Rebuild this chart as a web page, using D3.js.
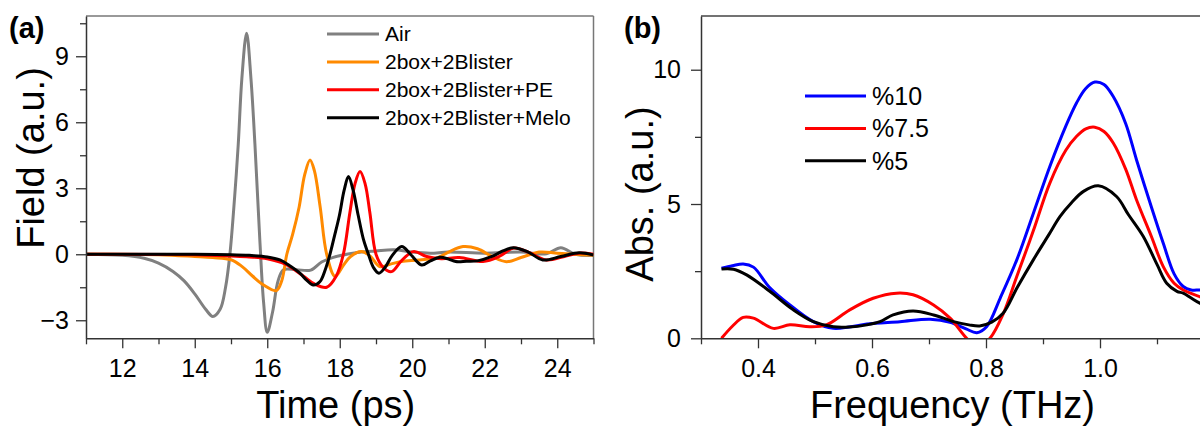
<!DOCTYPE html>
<html>
<head>
<meta charset="utf-8">
<script src="https://cdn.jsdelivr.net/npm/d3@7"></script>
<style>
  body { margin: 0; background: #fff; }
  text { font-family: "Liberation Sans", Arial, sans-serif; fill: #000; }
</style>
</head>
<body>
<script>
// ---- panel (a): THz time-domain field ----
const airT = [11, 12, 12.6, 13.0, 13.4, 13.7, 14.0, 14.3, 14.5, 14.7, 14.85, 14.97, 15.1, 15.2, 15.3, 15.43, 15.55, 15.66, 15.8, 15.9, 16.0, 16.15, 16.3, 16.45, 16.8, 17.2, 17.5, 17.8, 18.4, 19.0, 19.5, 20.0, 20.5, 21, 22, 23, 23.7, 24.1, 24.5, 25];
const airV = [0, -0.05, -0.18, -0.4, -0.78, -1.2, -1.8, -2.5, -2.83, -2.5, -1.5, 0, 2.6, 5.0, 8.0, 10.05, 8.0, 5.0, 0.5, -2.2, -3.55, -2.6, -1.2, -0.7, -0.7, -0.72, -0.35, -0.15, 0.06, 0.15, 0.2, 0.1, 0.05, 0.1, 0.05, 0.1, 0.02, 0.3, 0.0, -0.05];

const blisterT = [11, 13, 14, 14.5, 15.0, 15.3, 15.6, 15.9, 16.25, 16.4, 16.54, 16.7, 16.88, 17.03, 17.18, 17.3, 17.46, 17.64, 17.87, 18.1, 18.3, 18.6, 18.85, 19.1, 19.4, 19.7, 20.2, 20.7, 21.0, 21.4, 21.8, 22.2, 22.6, 23.0, 23.5, 24, 24.5, 25];
const blisterV = [0, -0.02, -0.1, -0.15, -0.25, -0.55, -1.0, -1.4, -1.65, -1.2, 0, 0.9, 2.15, 3.6, 4.29, 3.8, 2.15, 0, -1.0, -0.5, -0.1, 0.12, -0.1, -0.56, -0.45, -0.33, -0.26, -0.15, 0.1, 0.35, 0.25, -0.1, -0.34, -0.15, 0.1, 0.05, 0.0, -0.05];

const peT = [11, 14, 15, 15.5, 16, 16.5, 17.0, 17.3, 17.64, 17.9, 18.1, 18.28, 18.42, 18.56, 18.7, 18.83, 19.0, 19.2, 19.43, 19.7, 20.03, 20.4, 20.8, 21.3, 21.95, 22.4, 22.8, 23.2, 23.7, 24.2, 24.6, 25];
const peV = [0, -0.02, -0.08, -0.12, -0.2, -0.45, -1.0, -1.35, -1.5, -1.0, 0, 1.9, 3.2, 3.76, 3.2, 1.9, 0, -0.6, -0.79, -0.3, 0.12, -0.1, -0.2, -0.15, -0.33, -0.1, 0.28, 0.1, -0.26, -0.1, 0.05, 0.0];

const meloT = [11, 14, 15, 15.5, 16, 16.35, 16.6, 16.9, 17.1, 17.27, 17.45, 17.6, 17.73, 17.85, 17.99, 18.12, 18.24, 18.37, 18.51, 18.65, 18.79, 18.93, 19.08, 19.25, 19.45, 19.71, 19.95, 20.26, 20.5, 20.77, 21.0, 21.2, 21.5, 21.8, 22.2, 22.5, 22.79, 23.2, 23.6, 24.1, 24.6, 25];
const meloV = [0, 0, -0.02, -0.05, -0.12, -0.26, -0.5, -0.86, -1.2, -1.4, -1.25, -0.7, 0, 0.8, 1.76, 2.9, 3.53, 2.9, 1.76, 0.7, 0, -0.6, -0.86, -0.6, -0.05, 0.35, 0.0, -0.49, -0.3, -0.14, -0.22, -0.33, -0.32, -0.3, -0.1, 0.15, 0.3, 0.1, -0.26, -0.1, 0.07, -0.03];

const seriesA = [
  {name: "Air", color: "#808080", t: airT, v: airV},
  {name: "2box+2Blister", color: "#ff8a00", t: blisterT, v: blisterV},
  {name: "2box+2Blister+PE", color: "#ff0000", t: peT, v: peV},
  {name: "2box+2Blister+Melo", color: "#000000", t: meloT, v: meloV}
];
const xTicksA = [12, 14, 16, 18, 20, 22, 24];
const xMinorA = [11, 13, 15, 17, 19, 21, 23, 25];
const yTicksA = [-3, 0, 3, 6, 9];
const yMinorA = [-1.5, 1.5, 4.5, 7.5, 10.5];

// ---- panel (b): absorbance ----
const freq10 = [0.336, 0.355, 0.374, 0.392, 0.42, 0.456, 0.497, 0.532, 0.56, 0.591, 0.649, 0.702, 0.737, 0.765, 0.784, 0.801, 0.825, 0.854, 0.883, 0.912, 0.94, 0.959, 0.975, 0.991, 1.007, 1.023, 1.045, 1.064, 1.09, 1.111, 1.13, 1.146, 1.16, 1.175, 1.2];
const abs10 = [2.61, 2.7, 2.77, 2.65, 1.9, 1.24, 0.62, 0.37, 0.42, 0.53, 0.62, 0.71, 0.6, 0.35, 0.21, 0.43, 1.5, 2.92, 4.65, 6.4, 7.9, 8.77, 9.3, 9.54, 9.45, 9.01, 8.0, 6.65, 4.9, 3.54, 2.4, 1.93, 1.8, 1.8, 1.8];

const freq75 = [0.336, 0.355, 0.374, 0.392, 0.427, 0.456, 0.491, 0.52, 0.561, 0.602, 0.643, 0.672, 0.708, 0.737, 0.766, 0.785, 0.807, 0.83, 0.854, 0.883, 0.912, 0.94, 0.959, 0.975, 0.991, 1.007, 1.023, 1.045, 1.064, 1.09, 1.111, 1.13, 1.146, 1.175, 1.2];
const abs75 = [0, 0.45, 0.78, 0.75, 0.37, 0.5, 0.43, 0.5, 1.06, 1.49, 1.68, 1.62, 1.24, 0.75, 0, -0.35, 0, 0.9, 2.3, 4.0, 5.78, 7.0, 7.52, 7.8, 7.86, 7.7, 7.28, 6.3, 5.16, 3.8, 2.67, 2.05, 1.8, 1.55, 1.3];

const freq5 = [0.336, 0.357, 0.38, 0.42, 0.462, 0.497, 0.532, 0.56, 0.591, 0.614, 0.637, 0.672, 0.708, 0.743, 0.77, 0.789, 0.81, 0.83, 0.855, 0.883, 0.91, 0.93, 0.95, 0.971, 0.997, 1.029, 1.05, 1.076, 1.1, 1.117, 1.135, 1.146, 1.16, 1.175, 1.2];
const abs5 = [2.58, 2.57, 2.36, 1.76, 1.06, 0.62, 0.43, 0.42, 0.5, 0.62, 0.87, 1.02, 0.87, 0.62, 0.5, 0.46, 0.6, 0.93, 1.9, 2.92, 3.85, 4.54, 5.05, 5.47, 5.68, 5.28, 4.6, 3.79, 2.75, 2.05, 1.75, 1.68, 1.5, 1.31, 1.1];

const seriesB = [
  {name: "%10", color: "#0000ff", t: freq10, v: abs10},
  {name: "%7.5", color: "#ff0000", t: freq75, v: abs75},
  {name: "%5", color: "#000000", t: freq5, v: abs5}
];
const xTicksB = [0.4, 0.6, 0.8, 1.0];
const xMinorB = [0.3, 0.5, 0.7, 0.9, 1.1];
const yTicksB = [0, 5, 10];
const yMinorB = [2.5, 7.5];

const width = 1200;
const height = 426;

const svg = d3.select("body").append("svg")
    .attr("width", width)
    .attr("height", height);

function drawPanel(opt) {
    const x = d3.scaleLinear().domain(opt.xDomain).range([opt.left, opt.right]);
    const y = d3.scaleLinear().domain(opt.yDomain).range([opt.bottom, opt.top]);
    const g = svg.append("g");

    g.append("clipPath").attr("id", opt.id + "-clip")
      .append("rect")
        .attr("x", opt.left).attr("y", opt.top)
        .attr("width", opt.right - opt.left).attr("height", opt.bottom - opt.top);

    // frame (top / right)
    g.append("line")
        .attr("x1", opt.left).attr("x2", opt.right)
        .attr("y1", opt.top).attr("y2", opt.top)
        .style("stroke", opt.frame).style("stroke-width", 1.5);
    g.append("line")
        .attr("x1", opt.right).attr("x2", opt.right)
        .attr("y1", opt.top).attr("y2", opt.bottom)
        .style("stroke", opt.frame).style("stroke-width", 1.5);

    const line = d3.line()
        .x(d => x(d[0]))
        .y(d => y(d[1]))
        .curve(d3.curveCatmullRom.alpha(0.5));

    g.append("g")
        .attr("clip-path", `url(#${opt.id}-clip)`)
        .selectAll("path")
        .data(opt.series)
        .enter()
        .append("path")
        .attr("d", s => line(s.t.map((t, i) => [t, s.v[i]])))
        .style("fill", "none")
        .style("stroke", s => s.color)
        .style("stroke-width", 3)
        .style("stroke-linejoin", "round");

    // minor ticks
    g.append("g")
        .attr("transform", `translate(0,${opt.bottom})`)
        .call(d3.axisBottom(x).tickValues(opt.xMinor).tickSize(6).tickFormat(""))
        .call(a => a.select(".domain").remove());
    g.append("g")
        .attr("transform", `translate(${opt.left},0)`)
        .call(d3.axisLeft(y).tickValues(opt.yMinor).tickSize(6).tickFormat(""))
        .call(a => a.select(".domain").remove());

    // major axes
    const xAxis = g.append("g")
        .attr("transform", `translate(0,${opt.bottom})`)
        .call(d3.axisBottom(x).tickValues(opt.xTicks).tickSize(10).tickSizeOuter(0)
            .tickPadding(11).tickFormat(opt.xFormat));
    const yAxis = g.append("g")
        .attr("transform", `translate(${opt.left},0)`)
        .call(d3.axisLeft(y).tickValues(opt.yTicks).tickSize(10).tickSizeOuter(0)
            .tickPadding(opt.yPad).tickFormat(d3.format("d")));

    [xAxis, yAxis].forEach(a => {
        a.selectAll("text").style("font-size", "25px").style("font-family", '"Liberation Sans", Arial, sans-serif');
        a.select(".domain").style("stroke", "#333").style("stroke-width", 1.5);
    });
    g.selectAll(".tick line").style("stroke", "#333").style("stroke-width", 1.3);

    // axis titles
    g.append("text")
        .attr("x", (opt.left + Math.min(opt.right, width)) / 2 + opt.xTitleShift)
        .attr("y", 418)
        .style("font-size", "38px")
        .style("text-anchor", "middle")
        .text(opt.xTitle);
    g.append("text")
        .attr("transform", `translate(${opt.yTitleX},${opt.yTitleY}) rotate(-90)`)
        .style("font-size", "38px")
        .style("text-anchor", "middle")
        .text(opt.yTitle);

    // panel letter
    g.append("text")
        .attr("x", opt.letterX)
        .attr("y", 38)
        .style("font-size", "29px")
        .style("font-weight", "bold")
        .text(opt.letter);

    // legend
    const leg = g.append("g").selectAll("g")
        .data(opt.series)
        .enter()
        .append("g")
        .attr("transform", (d, i) => `translate(${opt.legX},${opt.legY + i * opt.legStep})`);
    leg.append("line")
        .attr("x1", 0).attr("x2", opt.legLen)
        .style("stroke", d => d.color)
        .style("stroke-width", 3);
    leg.append("text")
        .attr("x", opt.legLen + 6)
        .attr("dy", "0.35em")
        .style("font-size", opt.legFont)
        .text(d => d.name);
}

drawPanel({
    id: "a", letter: "(a)", letterX: 9,
    left: 86, right: 593.5, top: 16, bottom: 338.3,
    xDomain: [11, 25], yDomain: [-3.82, 10.83],
    xTicks: xTicksA, xMinor: xMinorA, yTicks: yTicksA, yMinor: yMinorA,
    xFormat: d3.format("d"), yPad: 7,
    frame: "#777",
    series: seriesA,
    xTitle: "Time (ps)", xTitleShift: -4,
    yTitle: "Field (a.u.)", yTitleX: 44, yTitleY: 158,
    legX: 327, legY: 34, legStep: 27.9, legLen: 52, legFont: "21px"
});

drawPanel({
    id: "b", letter: "(b)", letterX: 624,
    left: 701, right: 1214, top: 16, bottom: 338.3,
    xDomain: [0.3, 1.2], yDomain: [0, 12],
    xTicks: xTicksB, xMinor: xMinorB, yTicks: yTicksB, yMinor: yMinorB,
    xFormat: d3.format(".1f"), yPad: 10,
    frame: "#444",
    series: seriesB,
    xTitle: "Frequency (THz)", xTitleShift: 2,
    yTitle: "Abs. (a.u.)", yTitleX: 653, yTitleY: 194,
    legX: 805, legY: 96, legStep: 32.4, legLen: 61, legFont: "25px"
});
</script>
</body>
</html>
